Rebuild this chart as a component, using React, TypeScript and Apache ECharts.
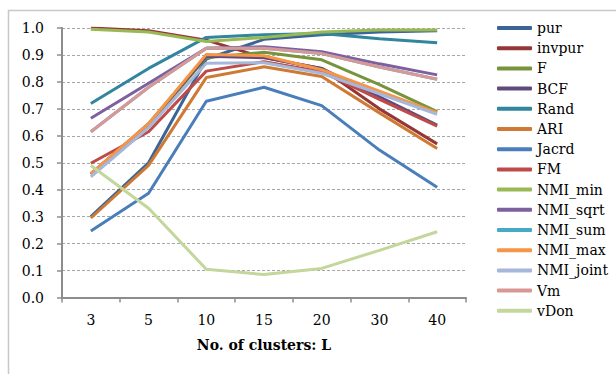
import React, { useEffect, useRef } from "react";
import * as echarts from "echarts";

const categories = ["3", "5", "10", "15", "20", "30", "40"];
const seriesNames = ["pur", "invpur", "F", "BCF", "Rand", "ARI", "Jacrd", "FM", "NMI_min", "NMI_sqrt", "NMI_sum", "NMI_max", "NMI_joint", "Vm", "vDon"];
const pur = [0.30, 0.50, 0.885, 0.958, 0.975, 0.985, 0.99];
const invpur = [1.0, 0.99, 0.955, 0.89, 0.85, 0.70, 0.57];
const F = [0.46, 0.64, 0.89, 0.91, 0.882, 0.79, 0.69];
const BCF = [0.458, 0.645, 0.895, 0.89, 0.85, 0.745, 0.64];
const Rand = [0.72, 0.85, 0.965, 0.975, 0.98, 0.96, 0.945];
const ARI = [0.295, 0.49, 0.816, 0.856, 0.82, 0.685, 0.553];
const Jacrd = [0.247, 0.387, 0.728, 0.78, 0.712, 0.547, 0.409];
const FM = [0.498, 0.615, 0.84, 0.875, 0.838, 0.735, 0.636];
const NMI_min = [0.995, 0.985, 0.95, 0.965, 0.985, 0.993, 0.993];
const NMI_sqrt = [0.665, 0.795, 0.925, 0.93, 0.912, 0.867, 0.826];
const NMI_sum = [0.615, 0.78, 0.925, 0.925, 0.905, 0.855, 0.81];
const NMI_max = [0.46, 0.645, 0.902, 0.897, 0.845, 0.766, 0.686];
const NMI_joint = [0.448, 0.63, 0.869, 0.871, 0.832, 0.756, 0.68];
const Vm = [0.615, 0.78, 0.925, 0.925, 0.905, 0.855, 0.81];
const vDon = [0.49, 0.331, 0.105, 0.085, 0.108, 0.175, 0.244];
const yTicks = ["0.0", "0.1", "0.2", "0.3", "0.4", "0.5", "0.6", "0.7", "0.8", "0.9", "1.0"];

const allData = [pur, invpur, F, BCF, Rand, ARI, Jacrd, FM, NMI_min, NMI_sqrt, NMI_sum, NMI_max, NMI_joint, Vm, vDon];
const colors = ["#3a6595", "#953735", "#77933c", "#604a7b", "#31859c", "#cf7a34", "#4a7ebb", "#be4b48", "#98b954", "#7d60a0", "#46aac5", "#f69545", "#a5b8dc", "#d99795", "#c3d69b"];

const FONT = "DejaVu Serif";

export default function App() {
  const ref = useRef<HTMLDivElement>(null);
  useEffect(() => {
    document.body.style.margin = "0";
    const chart = echarts.init(ref.current!, null, { renderer: "svg" });
    chart.setOption({
      animation: false,
      backgroundColor: "#ffffff",
      graphic: [
        {
          type: "rect",
          shape: { x: 8.5, y: 10.5, width: 640, height: 400 },
          style: { fill: "none", stroke: "#c8c8c8", lineWidth: 1.5 },
          silent: true,
        },
      ],
      grid: { left: 62, right: 150, top: 28, bottom: 76.5, containLabel: false },
      legend: {
        orient: "vertical",
        left: 492,
        top: 15,
        itemWidth: 35,
        itemHeight: 4,
        itemGap: 4.2,
        icon: "roundRect",
        data: seriesNames,
        textStyle: { fontFamily: FONT, fontSize: 14, color: "#000", lineHeight: 16 },
      },
      xAxis: {
        type: "category",
        data: categories,
        boundaryGap: true,
        name: "No. of clusters: L",
        nameLocation: "middle",
        nameGap: 40,
        nameTextStyle: { fontFamily: FONT, fontSize: 14, fontWeight: "bold", color: "#000" },
        axisLine: { lineStyle: { color: "#8c8c8c", width: 2 } },
        axisTick: { show: true, length: 5, lineStyle: { color: "#8c8c8c", width: 1.5 } },
        axisLabel: { fontFamily: FONT, fontSize: 14, color: "#000", margin: 15 },
        splitLine: { show: false },
      },
      yAxis: {
        type: "value",
        min: 0,
        max: 1,
        interval: 0.1,
        axisLine: { show: true, lineStyle: { color: "#8c8c8c", width: 2 } },
        axisTick: { show: true, length: 5, lineStyle: { color: "#8c8c8c", width: 1.5 } },
        axisLabel: {
          fontFamily: FONT,
          fontSize: 14,
          color: "#000",
          margin: 18,
          formatter: (v: number) => yTicks[Math.round(v * 10)] ?? "",
        },
        splitLine: { show: true, lineStyle: { color: "#a6a6a6", type: [3, 2], width: 1 } },
      },
      series: seriesNames.map((name, i) => ({
        name,
        type: "line",
        data: allData[i],
        symbol: "none",
        smooth: false,
        lineStyle: { width: 3, color: colors[i] },
        itemStyle: { color: colors[i] },
      })),
    });
    return () => chart.dispose();
  }, []);
  return <div ref={ref} style={{ width: 616, height: 374 }} />;
}
